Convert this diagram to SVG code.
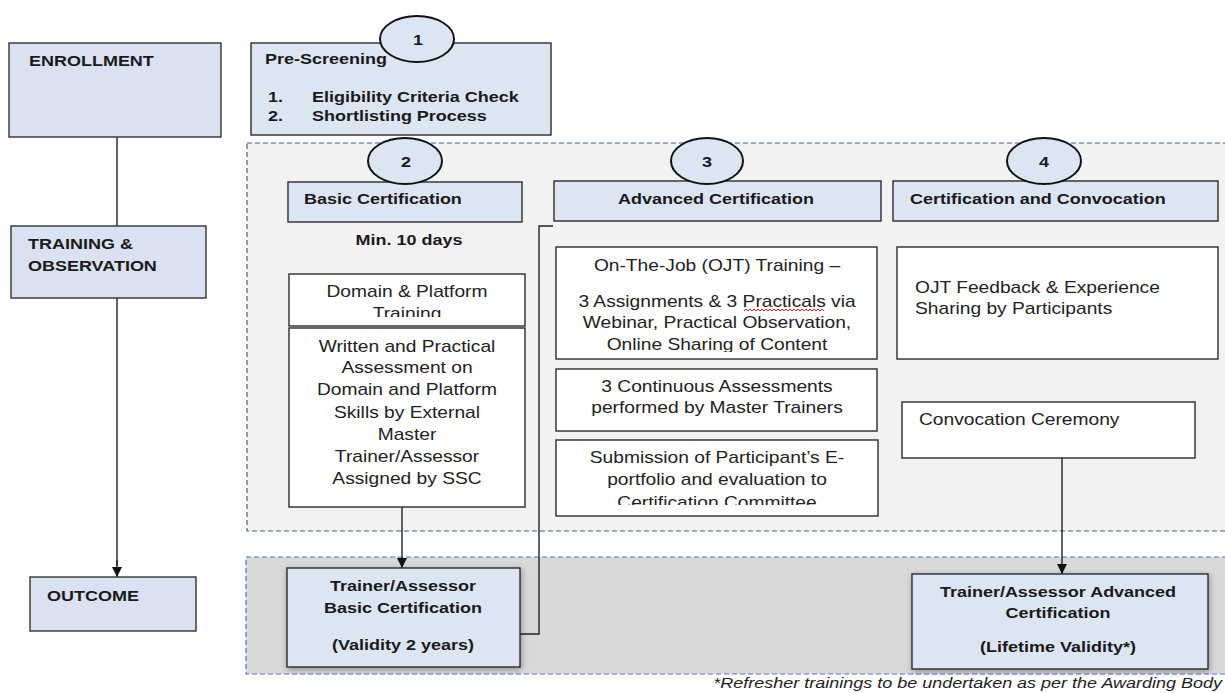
<svg xmlns="http://www.w3.org/2000/svg" width="1225" height="693" viewBox="0 0 1225 693">
<style>
.t{font-family:"Liberation Sans",Arial,sans-serif;font-size:16px;fill:#222}
.b{font-weight:bold;font-size:15px;fill:#1a1a1a}
.m{text-anchor:middle}
.i{font-style:italic;font-size:15px;fill:#222}
.box{fill:#ffffff;stroke:#2b2b2b;stroke-width:1.4}
.blue{fill:#dce6f3;stroke:#2b2b2b;stroke-width:1.4}
.lane{fill:#dae2f1;stroke:#333;stroke-width:1.4}
.circ{fill:#dce6f3;stroke:#111;stroke-width:2}
.reg1{fill:#f2f2f2;stroke:#4b5f82;stroke-width:1.2;stroke-dasharray:5 3}
.reg2{fill:#d9d9d9;stroke:#4a7fd0;stroke-width:1.2;stroke-dasharray:5 3}
.ln{fill:none;stroke:#222;stroke-width:1.4}
.gl{fill:none;stroke:#666;stroke-width:2}
</style>
<defs>
<marker id="ah" markerUnits="userSpaceOnUse" markerWidth="11" markerHeight="11" refX="10" refY="5" orient="auto">
<path d="M0,0 L10,5 L0,10 z" fill="#111"/>
</marker>
<filter id="sh" x="-10%" y="-10%" width="120%" height="125%">
<feDropShadow dx="1" dy="2" stdDeviation="3" flood-color="#000" flood-opacity="0.35"/>
</filter>
<clipPath id="cDom"><rect x="289" y="274" width="236" height="43"/></clipPath>
<clipPath id="cOjt"><rect x="556" y="247" width="321" height="105"/></clipPath>
<clipPath id="cSub"><rect x="556" y="440" width="322" height="65"/></clipPath>
</defs>

<rect width="1225" height="693" fill="#ffffff"/>

<g id="regions">
<rect class="reg1" x="247" y="143" width="995" height="388"/>
<rect class="reg2" x="246" y="557" width="995" height="117"/>
</g>

<g id="connectors">
<line class="gl" x1="117" y1="137" x2="117" y2="226"/>
<line class="gl" x1="117" y1="298" x2="117" y2="566"/>
<line class="ln" x1="117" y1="560" x2="117" y2="577" marker-end="url(#ah)"/>
<line class="ln" x1="402" y1="507" x2="402" y2="568" marker-end="url(#ah)"/>
<polyline class="ln" points="520,634 539,634 539,226 553,226"/>
<line class="ln" x1="1062" y1="458" x2="1062" y2="574" marker-end="url(#ah)"/>
</g>

<g id="enrollment">
<rect class="lane" x="9" y="43" width="212" height="94"/>
<text class="t b" transform="translate(29 0) scale(1.2 1)" y="66">ENROLLMENT</text>
</g>
<g id="training-observation">
<rect class="lane" x="11" y="226" width="195" height="72"/>
<text class="t b" transform="translate(28 0) scale(1.2 1)"><tspan x="0" y="249">TRAINING &amp;</tspan><tspan x="0" y="271">OBSERVATION</tspan></text>
</g>
<g id="outcome">
<rect class="lane" x="30" y="577" width="166" height="54"/>
<text class="t b" transform="translate(47 0) scale(1.2 1)" y="601">OUTCOME</text>
</g>

<g id="pre-screening">
<rect class="blue" x="251" y="43" width="300" height="92"/>
<text class="t b" transform="translate(265 0) scale(1.2 1)" y="64">Pre-Screening</text>
<text class="t b" transform="translate(268 0) scale(1.2 1)"><tspan x="0" y="102">1.</tspan><tspan x="0" y="121">2.</tspan></text>
<text class="t b" transform="translate(312 0) scale(1.2 1)"><tspan x="0" y="102">Eligibility Criteria Check</tspan><tspan x="0" y="121">Shortlisting Process</tspan></text>
</g>
<g id="step1">
<ellipse class="circ" cx="417" cy="39" rx="37" ry="23"/>
<text class="t b m" transform="translate(418 0) scale(1.2 1)" y="45">1</text>
</g>

<g id="basic-certification">
<rect class="blue" x="288" y="182" width="234" height="40"/>
<text class="t b" transform="translate(304 0) scale(1.2 1)" y="204">Basic Certification</text>
</g>
<g id="step2">
<ellipse class="circ" cx="405" cy="161" rx="37" ry="23"/>
<text class="t b m" transform="translate(406 0) scale(1.2 1)" y="167">2</text>
</g>
<g id="advanced-certification">
<rect class="blue" x="554" y="181" width="327" height="40"/>
<text class="t b m" transform="translate(716 0) scale(1.2 1)" y="204">Advanced Certification</text>
</g>
<g id="step3">
<ellipse class="circ" cx="707" cy="161" rx="36" ry="23"/>
<text class="t b m" transform="translate(707 0) scale(1.2 1)" y="167">3</text>
</g>
<g id="certification-convocation">
<rect class="blue" x="893" y="181" width="325" height="40"/>
<text class="t b" transform="translate(910 0) scale(1.2 1)" y="204">Certification and Convocation</text>
</g>
<g id="step4">
<ellipse class="circ" cx="1044" cy="161" rx="37" ry="23"/>
<text class="t b m" transform="translate(1044 0) scale(1.2 1)" y="167">4</text>
</g>

<g id="min-days">
<text class="t b m" transform="translate(409 0) scale(1.2 1)" y="245">Min. 10 days</text>
</g>

<g id="domain-training">
<rect class="box" x="289" y="274" width="236" height="52"/>
<g clip-path="url(#cDom)">
<text class="t m" transform="translate(407 0) scale(1.2 1)"><tspan x="0" y="297">Domain &amp; Platform</tspan><tspan x="0" y="319">Training</tspan></text>
</g>
</g>
<g id="written-assessment">
<rect class="box" x="289" y="328" width="236" height="179"/>
<text class="t m" transform="translate(407 0) scale(1.2 1)"><tspan x="0" y="352">Written and Practical</tspan><tspan x="0" y="373">Assessment on</tspan><tspan x="0" y="395">Domain and Platform</tspan><tspan x="0" y="418">Skills by External</tspan><tspan x="0" y="440">Master</tspan><tspan x="0" y="462">Trainer/Assessor</tspan><tspan x="0" y="484">Assigned by SSC</tspan></text>
</g>

<g id="ojt-training">
<rect class="box" x="556" y="247" width="321" height="112"/>
<g clip-path="url(#cOjt)">
<text class="t m" transform="translate(717 0) scale(1.2 1)"><tspan x="0" y="271">On-The-Job (OJT) Training –</tspan><tspan x="0" y="307">3 Assignments &amp; 3 Practicals via</tspan><tspan x="0" y="328">Webinar, Practical Observation,</tspan><tspan x="0" y="350">Online Sharing of Content</tspan></text>
</g>
<path d="M744,311 l2,-2 l2,2 l2,-2 l2,2 l2,-2 l2,2 l2,-2 l2,2 l2,-2 l2,2 l2,-2 l2,2 l2,-2 l2,2 l2,-2 l2,2 l2,-2 l2,2 l2,-2 l2,2 l2,-2 l2,2 l2,-2 l2,2 l2,-2 l2,2 l2,-2 l2,2 l2,-2 l2,2 l2,-2 l2,2 l2,-2 l2,2 l2,-2 l2,2 l2,-2 l2,2 l2,-2 l2,2" fill="none" stroke="#e02020" stroke-width="1"/>
</g>
<g id="continuous-assessments">
<rect class="box" x="556" y="369" width="321" height="62"/>
<text class="t m" transform="translate(717 0) scale(1.2 1)"><tspan x="0" y="392">3 Continuous Assessments</tspan><tspan x="0" y="413">performed by Master Trainers</tspan></text>
</g>
<g id="e-portfolio">
<rect class="box" x="556" y="440" width="322" height="76"/>
<g clip-path="url(#cSub)">
<text class="t m" transform="translate(717 0) scale(1.2 1)"><tspan x="0" y="463">Submission of Participant’s E-</tspan><tspan x="0" y="485">portfolio and evaluation to</tspan><tspan x="0" y="508">Certification Committee</tspan></text>
</g>
</g>

<g id="ojt-feedback">
<rect class="box" x="897" y="247" width="321" height="112"/>
<text class="t" transform="translate(915 0) scale(1.2 1)"><tspan x="0" y="293">OJT Feedback &amp; Experience</tspan><tspan x="0" y="314">Sharing by Participants</tspan></text>
</g>
<g id="convocation-ceremony">
<rect class="box" x="902" y="402" width="293" height="56"/>
<text class="t" transform="translate(919 0) scale(1.2 1)" y="425">Convocation Ceremony</text>
</g>

<g id="basic-outcome">
<rect class="blue" x="287" y="568" width="233" height="99" filter="url(#sh)"/>
<text class="t b m" transform="translate(403 0) scale(1.2 1)"><tspan x="0" y="591">Trainer/Assessor</tspan><tspan x="0" y="613">Basic Certification</tspan><tspan x="0" y="650">(Validity 2 years)</tspan></text>
</g>
<g id="advanced-outcome">
<rect class="blue" x="912" y="574" width="296" height="95" filter="url(#sh)"/>
<text class="t b m" transform="translate(1058 0) scale(1.2 1)"><tspan x="0" y="597">Trainer/Assessor Advanced</tspan><tspan x="0" y="618">Certification</tspan><tspan x="0" y="652">(Lifetime Validity*)</tspan></text>
</g>

<g id="footnote">
<text class="t i" text-anchor="end" transform="translate(1222 0) scale(1.2 1)" y="688">*Refresher trainings to be undertaken as per the Awarding Body</text>
</g>
</svg>
